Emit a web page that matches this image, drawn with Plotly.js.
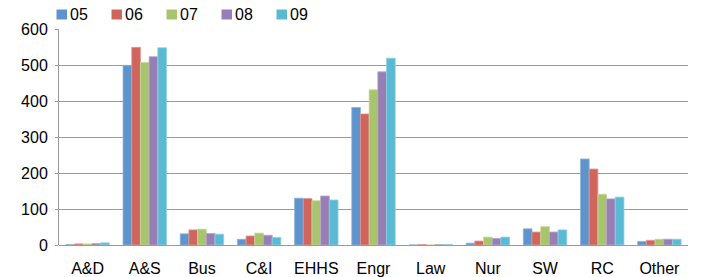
<!DOCTYPE html>
<html>
<head>
<meta charset="utf-8">
<script src="https://cdn.plot.ly/plotly-3.0.1.min.js"></script>
<style>html,body{margin:0;padding:0;background:#fff;}#chart{width:701px;height:277px;}</style>
</head>
<body>
<div id="chart"></div>
<script>
const categories = ["A&D", "A&S", "Bus", "C&I", "EHHS", "Engr", "Law", "Nur", "SW", "RC", "Other"];
const seriesNames = ["05", "06", "07", "08", "09"];
const v05 = [1, 499, 31, 16, 130, 382, 0, 5, 45, 239, 10];
const v06 = [3, 549, 42, 25, 129, 364, 1, 11, 36, 211, 13];
const v07 = [3, 507, 44, 33, 123, 431, 0, 22, 51, 141, 16];
const v08 = [4, 523, 32, 27, 136, 481, 1, 18, 36, 128, 16];
const v09 = [6, 548, 30, 21, 125, 519, 1, 22, 42, 133, 16];
const seriesValues = [v05, v06, v07, v08, v09];
const colors = ["#5F93CC", "#D0655E", "#A8C46C", "#977FB6", "#5BBAD3"];
const edgeColors = ["#8FB3DC", "#E09590", "#C6D89C", "#B4A3CA", "#90D0E2"];
const yTicks = [0, 100, 200, 300, 400, 500, 600];

const W = 701, H = 277;
const M = { l: 59, r: 13, t: 29, b: 32 };
const pw = W - M.l - M.r, ph = H - M.t - M.b;
const px2x = p => (p - M.l) / pw;
const py2y = p => (H - M.b - p) / ph;

const traces = seriesNames.map((n, i) => ({
  type: "bar",
  name: n,
  x: categories,
  y: seriesValues[i],
  marker: { color: colors[i], line: { color: edgeColors[i], width: 0.8 } },
  hoverinfo: "skip"
}));

const font = { family: "Liberation Sans, Arial, sans-serif", size: 16, color: "#000" };

// custom legend (Excel-style: small square right next to label)
const shapes = [];
const annotations = [];
seriesNames.forEach((n, i) => {
  const x0 = 56.5 + i * 55;
  shapes.push({
    type: "rect", xref: "paper", yref: "paper",
    x0: px2x(x0), x1: px2x(x0 + 10.5),
    y0: py2y(19.5), y1: py2y(9.5),
    fillcolor: colors[i], line: { width: 0 }
  });
  annotations.push({
    xref: "paper", yref: "paper",
    x: px2x(x0 + 11), y: py2y(15),
    xanchor: "left", yanchor: "middle",
    text: n, showarrow: false, font: font
  });
});

const layout = {
  width: W, height: H,
  margin: M,
  paper_bgcolor: "#fff", plot_bgcolor: "#fff",
  font: font,
  barmode: "group",
  bargap: 0.24,
  bargroupgap: 0,
  showlegend: false,
  shapes: shapes,
  annotations: annotations,
  xaxis: {
    type: "category",
    showgrid: false,
    showline: false,
    ticks: "outside", ticklen: 9, tickcolor: "rgba(0,0,0,0)",
    tickfont: font,
    zeroline: false
  },
  yaxis: {
    range: [0, 600],
    tickvals: yTicks,
    ticktext: yTicks.map(String),
    showgrid: true, gridcolor: "#9A9A9A", gridwidth: 1,
    showline: true, linecolor: "#9A9A9A", linewidth: 1,
    ticks: "outside", ticklen: 3, tickcolor: "#9A9A9A",
    ticklabelstandoff: 4,
    zeroline: true, zerolinecolor: "#9A9A9A", zerolinewidth: 1,
    tickfont: font,
    fixedrange: true
  }
};

Plotly.newPlot("chart", traces, layout, { displayModeBar: false, staticPlot: true });
</script>
</body>
</html>
